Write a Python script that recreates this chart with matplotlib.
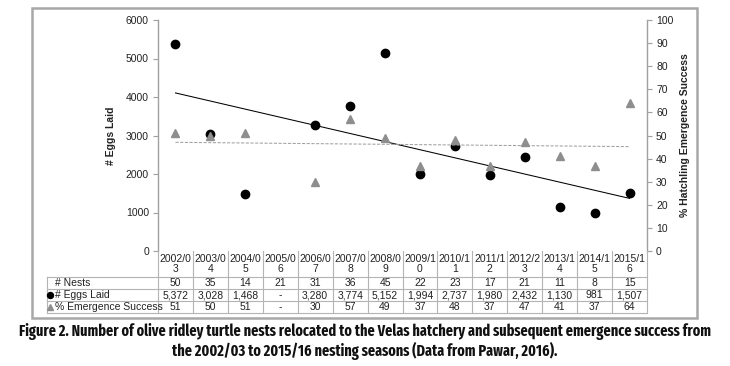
import numpy as np
import matplotlib
matplotlib.use('Agg')
import matplotlib.pyplot as plt
import matplotlib.transforms as mtransforms
from matplotlib.patches import Rectangle
from matplotlib.lines import Line2D

# ---------------- data ----------------
seasons = ["2002/03", "2003/04", "2004/05", "2005/06", "2006/07", "2007/08", "2008/09",
           "2009/10", "2010/11", "2011/12", "2012/23", "2013/14", "2014/15", "2015/16"]
nests = [50, 35, 14, 21, 31, 36, 45, 22, 23, 17, 21, 11, 8, 15]
eggs_laid = [5372, 3028, 1468, np.nan, 3280, 3774, 5152, 1994, 2737, 1980, 2432, 1130, 981, 1507]
emergence = [51, 50, 51, np.nan, 30, 57, 49, 37, 48, 37, 47, 41, 37, 64]
left_ticks = [0, 1000, 2000, 3000, 4000, 5000, 6000]
right_ticks = [0, 10, 20, 30, 40, 50, 60, 70, 80, 90, 100]
caption = ("Figure 2. Number of olive ridley turtle nests relocated to the Velas hatchery and subsequent emergence success from\n"
           "the 2002/03 to 2015/16 nesting seasons (Data from Pawar, 2016).")

plt.rcParams['font.family'] = ['Liberation Sans', 'DejaVu Sans']

W, H = 730, 366
fig = plt.figure(figsize=(W / 100, H / 100), dpi=100)

def fx(px):
    return px / W

def fy(py):
    return 1 - py / H

L, R, T, B = 158, 647, 20, 251
GRID = '#b4b4b4'
AXC = '#a0a0a0'
TXT = '#222222'
FS = 7.5

ax = fig.add_axes([fx(L), fy(B), (R - L) / W, (B - T) / H])
ax2 = ax.twinx()

x = np.arange(len(seasons))
eggs = np.array(eggs_laid, dtype=float)
emg = np.array(emergence, dtype=float)

ax.set_xlim(-0.5, len(seasons) - 0.5)
ax.set_ylim(0, 6000)
ax2.set_ylim(0, 100)
ax.set_yticks(left_ticks)
ax2.set_yticks(right_ticks)
ax.set_xticks([])

for s in ['top', 'bottom', 'right']:
    ax.spines[s].set_visible(False)
for s in ['top', 'bottom', 'left']:
    ax2.spines[s].set_visible(False)
ax.spines['left'].set_color(AXC)
ax2.spines['right'].set_color(AXC)
ax.spines['left'].set_linewidth(1.0)
ax2.spines['right'].set_linewidth(1.0)
ax.tick_params(axis='y', colors=AXC, labelcolor=TXT, labelsize=FS, length=3.5, width=0.8, pad=3)
ax2.tick_params(axis='y', colors=AXC, labelcolor=TXT, labelsize=FS, length=3.5, width=0.8, pad=3)

ax.set_ylabel('# Eggs Laid', fontsize=FS, fontweight='bold', color=TXT, labelpad=7)
ax2.set_ylabel('% Hatchling Emergence Success', fontsize=FS, fontweight='bold', color=TXT, labelpad=5)

# trend lines
m1 = ~np.isnan(eggs)
p1 = np.polyfit(x[m1], eggs[m1], 1)
xx = np.array([x[m1].min(), x[m1].max()])
ax.plot(xx, np.polyval(p1, xx), color='black', lw=0.75, zorder=2)

m2 = ~np.isnan(emg)
p2 = np.polyfit(x[m2], emg[m2], 1)
xx2 = np.array([x[m2].min(), x[m2].max()])
ax2.plot(xx2, np.polyval(p2, xx2), color='#a0a0a0', lw=0.75, ls=(0, (3, 1.5)), zorder=2)

ax.plot(x, eggs, 'o', color='black', ms=6, zorder=3)
ax2.plot(x, emg, '^', color='#8e8e8e', ms=6, zorder=3)

# ---------------- data table ----------------
trans = mtransforms.blended_transform_factory(ax.transData, fig.transFigure)
n = len(seasons)
row_y = [251, 277, 289, 301, 313]
tab_left = 47

for k in range(n + 1):
    fig.add_artist(Line2D([k - 0.5, k - 0.5], [fy(row_y[0]), fy(row_y[-1])],
                          transform=trans, color=GRID, lw=0.8))
fig.add_artist(Line2D([fx(tab_left), fx(tab_left)], [fy(row_y[1]), fy(row_y[-1])],
                      transform=fig.transFigure, color=GRID, lw=0.8))
for yy in row_y[1:]:
    fig.add_artist(Line2D([fx(tab_left), fx(L)], [fy(yy), fy(yy)],
                          transform=fig.transFigure, color=GRID, lw=0.8))
    fig.add_artist(Line2D([-0.5, n - 0.5], [fy(yy), fy(yy)],
                          transform=trans, color=GRID, lw=0.8))

for k, s in enumerate(seasons):
    fig.text(k, fy(264), s[:6] + "\n" + s[6:], transform=trans, ha='center', va='center',
             fontsize=FS, color=TXT, linespacing=1.05)

row_vals = [
    [str(v) for v in nests],
    ['-' if np.isnan(v) else f"{int(v):,}" for v in eggs],
    ['-' if np.isnan(v) else f"{int(v)}" for v in emg],
]
row_labels = ['# Nests', '# Eggs Laid', '% Emergence Success']
for r in range(3):
    yc = fy((row_y[r + 1] + row_y[r + 2]) / 2)
    fig.text(fx(55), yc, row_labels[r], ha='left', va='center', fontsize=FS, color=TXT)
    for k, v in enumerate(row_vals[r]):
        fig.text(k, yc, v, transform=trans, ha='center', va='center', fontsize=FS, color=TXT)

fig.add_artist(Line2D([fx(50.5)], [fy(295)], transform=fig.transFigure, marker='o',
                      color='black', ms=4.3, ls='none'))
fig.add_artist(Line2D([fx(50.5)], [fy(307)], transform=fig.transFigure, marker='^',
                      color='#8e8e8e', ms=4.3, ls='none'))

# outer border
fig.add_artist(Rectangle((fx(32), fy(318)), fx(697) - fx(32), (318 - 8) / H,
                         transform=fig.transFigure, fill=False, edgecolor='#a8a8a8', lw=1.8))

# caption
fig.text(0.5, fy(341.5), caption, ha='center', va='center', fontsize=11.1, fontweight='bold',
         family=['Fira Sans Extra Condensed', 'Pragati Narrow', 'DejaVu Sans'],
         color='#111111', linespacing=1.12)

fig.savefig('out.png', dpi=100)
